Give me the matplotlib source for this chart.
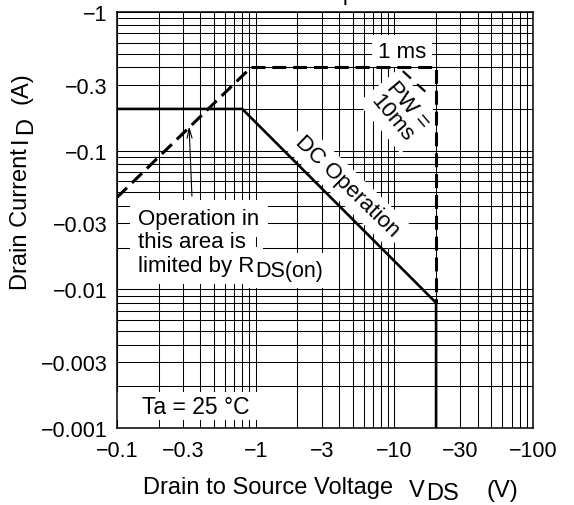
import matplotlib
matplotlib.use("Agg")
import matplotlib.pyplot as plt
from matplotlib.patches import Rectangle
from matplotlib.ticker import FixedLocator, LogLocator, NullFormatter

plt.rcParams["font.family"] = ["Liberation Sans", "DejaVu Sans"]
plt.rcParams["lines.scale_dashes"] = False

# ---- limits of the safe operating area (|V_DS| in V, |I_D| in A) ----
dc_v = [0.1, 0.8, 20, 20]          # DC operation
dc_i = [0.2, 0.2, 0.008, 0.001]
rds_v = [0.1, 0.93]                # R_DS(on) limit
rds_i = [0.046, 0.4]
pw_v = [0.93, 20, 20]              # pulse (1 ms / 10 ms) envelope
pw_i = [0.4, 0.4, 0.008]
edge_v = [11.5, 17.5]              # short edge next to the PW label
edge_i = [0.375, 0.256]

x_ticks = [0.1, 0.3, 1, 3, 10, 30, 100]
x_labels = ["\u22120.1", "\u22120.3", "\u22121", "\u22123", "\u221210", "\u221230", "\u2212100"]
y_ticks = [0.001, 0.003, 0.01, 0.03, 0.1, 0.3, 1]
y_labels = ["\u22120.001", "\u22120.003", "\u22120.01", "\u22120.03", "\u22120.1", "\u22120.3", "\u22121"]

FS = 16       # annotations
FT = 15.5     # tick labels
FL = 17       # axis titles
W, H = 574, 506


def px(x, y):
    # pixel position -> figure fraction
    return x / W, 1 - y / H


def boxed(ax, x, y, s, pad=4, **kw):
    # white patch first, then the text on top so neighbouring patches
    # never cover the glyphs
    ax.text(x, y, s, color="white", zorder=2,
            bbox=dict(facecolor="white", edgecolor="none", pad=pad), **kw)
    ax.text(x, y, s, color="black", zorder=3, **kw)


fig = plt.figure(figsize=(W / 100, H / 100), dpi=100)
ax = fig.add_axes([117 / W, 1 - 429 / H, 416 / W, 416 / H])
ax.set_xscale("log")
ax.set_yscale("log")
ax.set_xlim(0.1, 100)
ax.set_ylim(0.001, 1)

ax.xaxis.set_major_locator(FixedLocator(x_ticks))
ax.xaxis.set_minor_locator(LogLocator(base=10, subs=range(1, 10), numticks=20))
ax.xaxis.set_minor_formatter(NullFormatter())
ax.set_xticklabels(x_labels)
ax.yaxis.set_major_locator(FixedLocator(y_ticks))
ax.yaxis.set_minor_locator(LogLocator(base=10, subs=range(1, 10), numticks=20))
ax.yaxis.set_minor_formatter(NullFormatter())
ax.set_yticklabels(y_labels)

ax.grid(True, which="both", color="black", lw=0.75, zorder=0)
ax.set_axisbelow(True)
ax.tick_params(which="both", length=0)
ax.tick_params(axis="x", pad=9, labelsize=FT)
ax.tick_params(axis="y", pad=7, labelsize=FT)
for s in ax.spines.values():
    s.set_linewidth(1.1)

# curves
ax.plot(dc_v, dc_i, color="black", lw=1.9, zorder=5, solid_joinstyle="miter")
ax.plot(rds_v, rds_i, color="black", lw=2.2, dashes=(10, 5), zorder=5)
ax.plot(pw_v, pw_i, color="black", lw=2.2, dashes=(10, 5), zorder=5)
ax.plot(edge_v, edge_i, color="black", lw=1.6, dashes=(8, 6), zorder=5)

boxed(ax, 11.35, 0.523, "1 ms", fontsize=FS, ha="center", va="center")
boxed(ax, 10.9, 0.193, "PW =\n10ms", fontsize=FS, ha="center", va="center",
      rotation=-50, rotation_mode="anchor", multialignment="center",
      linespacing=1.0)
boxed(ax, 4.55, 0.0556, "DC Operation", fontsize=FS, ha="center", va="center",
      rotation=-44, rotation_mode="anchor")

# temperature note on a wide, flat white strip
ax.add_patch(Rectangle((0.1, 0.00114), 1.6 - 0.1, 0.00182 - 0.00114,
                       facecolor="white", edgecolor="none", zorder=2))
ax.text(0.368, 0.00144, "Ta = 25 \u00b0C", fontsize=16.5, ha="center",
        va="center", zorder=3)

# R_DS(on) note
boxed(ax, 0.1416, 0.0296, "Operation in", pad=6, fontsize=FS, ha="left", va="baseline")
boxed(ax, 0.1416, 0.0202, "this area is", pad=6, fontsize=FS, ha="left", va="baseline")
boxed(ax, 0.1416, 0.01356, "limited by R", pad=6, fontsize=FS, ha="left", va="baseline")
boxed(ax, 0.989, 0.01247, "DS(on)", pad=5, fontsize=FS - 0.5, ha="left", va="baseline")
ax.annotate("", xy=(0.331, 0.150), xytext=(0.347, 0.047),
            arrowprops=dict(arrowstyle="->,head_length=0.7,head_width=0.18",
                            lw=0.8, color="black", shrinkA=0, shrinkB=0),
            zorder=6)

# axis titles
fig.text(*px(268, 488), "Drain to Source Voltage", fontsize=FL, ha="center", va="center")
fig.text(*px(409, 496.7), "V", fontsize=FL, ha="left", va="baseline")
fig.text(*px(426, 500.5), "DS", fontsize=FL, ha="left", va="baseline")
fig.text(*px(486, 496.7), "(V)", fontsize=FL, ha="left", va="baseline")

fig.text(*px(21, 219), "Drain Current", fontsize=FL, rotation=90, ha="center", va="center")
fig.text(*px(21, 140), "I", fontsize=FL, rotation=90, ha="center", va="center")
fig.text(*px(26, 126), "D", fontsize=FL, rotation=90, ha="center", va="center")
fig.text(*px(21, 88), "(A)", fontsize=FL, rotation=90, ha="center", va="center")

fig.text(*px(322, 0), "Maximum Safe Operation Area", fontsize=FL,
         ha="center", va="baseline")

fig.savefig("out.png", dpi=100)
